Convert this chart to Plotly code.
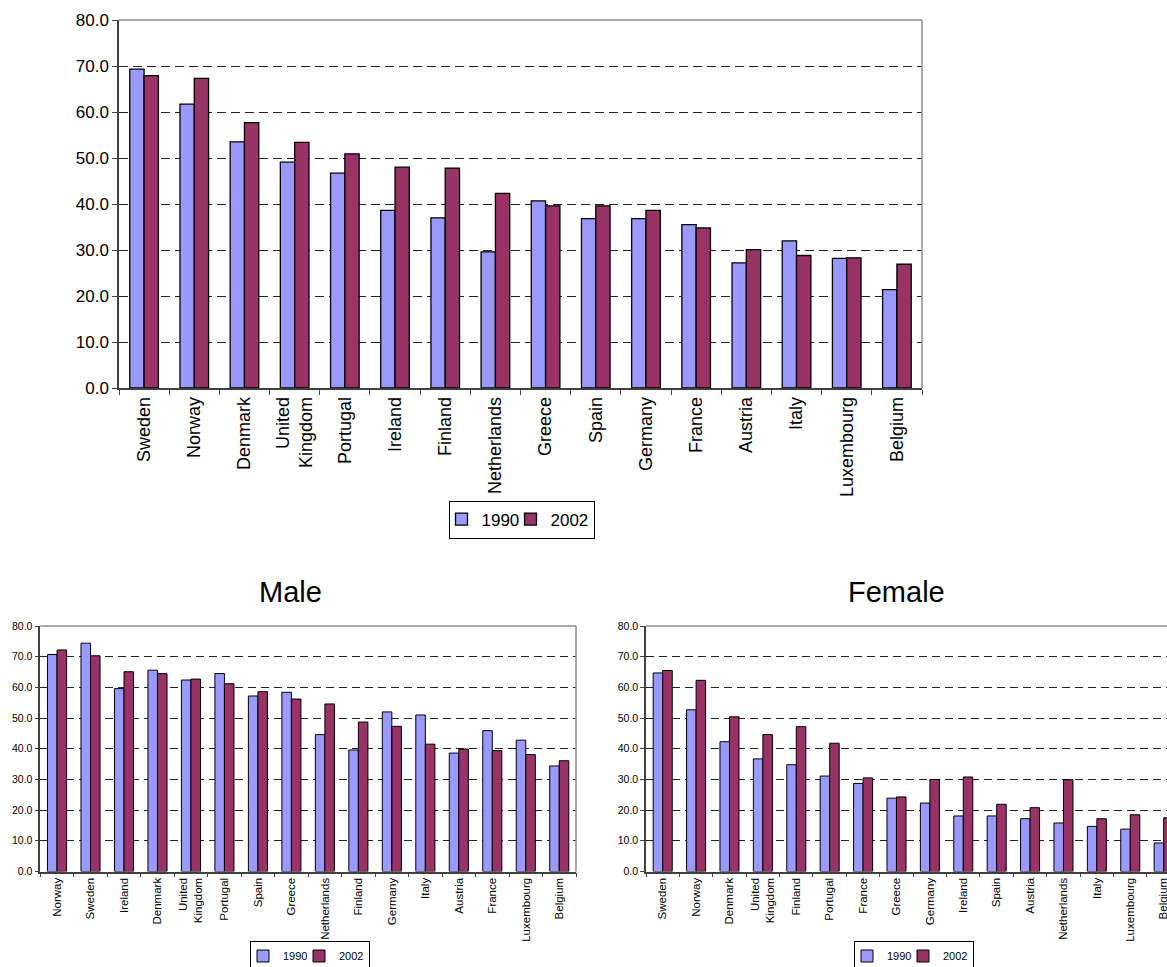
import plotly.graph_objects as go

W, H = 1167, 967
FONT = "Arial, Liberation Sans, sans-serif"
C1990 = "#9999FF"
C2002 = "#993366"

# Total (both sexes), sorted by the 2002 value
countries_all = ["Sweden", "Norway", "Denmark", "United<br>Kingdom", "Portugal", "Ireland",
                 "Finland", "Netherlands", "Greece", "Spain", "Germany", "France",
                 "Austria", "Italy", "Luxembourg", "Belgium"]
all_1990 = [69.3, 61.7, 53.5, 49.1, 46.7, 38.6, 37.0, 29.6, 40.7, 36.8, 36.8, 35.5,
            27.2, 32.0, 28.2, 21.4]
all_2002 = [67.9, 67.3, 57.7, 53.4, 50.9, 48.0, 47.8, 42.3, 39.6, 39.6, 38.6, 34.8,
            30.1, 28.8, 28.3, 26.9]

# Male
countries_male = ["Norway", "Sweden", "Ireland", "Denmark", "United<br>Kingdom", "Portugal",
                  "Spain", "Greece", "Netherlands", "Finland", "Germany", "Italy",
                  "Austria", "France", "Luxembourg", "Belgium"]
male_1990 = [70.7, 74.4, 59.6, 65.6, 62.4, 64.5, 57.2, 58.4, 44.6, 39.6, 52.0, 51.0,
             38.6, 45.9, 42.8, 34.4]
male_2002 = [72.2, 70.3, 65.1, 64.5, 62.7, 61.2, 58.6, 56.2, 54.6, 48.7, 47.3, 41.5,
             39.9, 39.4, 38.1, 36.1]

# Female
countries_female = ["Sweden", "Norway", "Denmark", "United<br>Kingdom", "Finland", "Portugal",
                    "France", "Greece", "Germany", "Ireland", "Spain", "Austria",
                    "Netherlands", "Italy", "Luxembourg", "Belgium"]
female_1990 = [64.7, 52.7, 42.3, 36.7, 34.8, 31.1, 28.7, 23.9, 22.3, 18.1, 18.1, 17.2,
               15.8, 14.7, 13.8, 9.3]
female_2002 = [65.5, 62.3, 50.4, 44.6, 47.2, 41.8, 30.5, 24.3, 30.0, 30.8, 21.9, 20.8,
               29.9, 17.2, 18.5, 17.5]

years = ["1990", "2002"]
colors = [C1990, C2002]


def px_x(v):
    return v / W


def px_y(v):
    return 1 - v / H


fig = go.Figure()

panels = [
    # (categories, series, axis suffix, legend id, bar line width, first legend entry width)
    (countries_all, [all_1990, all_2002], "", "legend", 1.3, 32),
    (countries_male, [male_1990, male_2002], "2", "legend2", 1.0, 19),
    (countries_female, [female_1990, female_2002], "3", "legend3", 1.0, 19),
]

for cats, series, suf, leg, lw, first_w in panels:
    for i, (name, vals, col) in enumerate(zip(years, series, colors)):
        fig.add_trace(go.Bar(
            x=cats, y=vals, name=name,
            marker=dict(color=col, line=dict(color="#000000", width=lw)),
            xaxis="x" + suf, yaxis="y" + suf,
            legend=leg, legendwidth=first_w if i == 0 else None,
            hoverinfo="x+y+name",
        ))

top_y = [px_y(388), px_y(20)]
bot_y = [px_y(871.5), px_y(626)]


def yaxis(domain, anchor, size, dash, ticklen):
    return dict(
        domain=domain, anchor=anchor, range=[0, 80], dtick=10, tickformat=".1f",
        showgrid=True, gridcolor="#222222", griddash=dash, gridwidth=1,
        showline=True, linecolor="#404040", linewidth=1.5, zeroline=False,
        ticks="outside", ticklen=ticklen, tickcolor="#404040", tickwidth=1,
        tickfont=dict(family=FONT, size=size, color="#000000"), fixedrange=True,
    )


def xaxis(domain, anchor, size, rng, ticklen):
    return dict(
        domain=domain, anchor=anchor, type="category", range=rng,
        tickson="boundaries", ticks="outside", ticklen=ticklen, tickcolor="#404040",
        showline=True, linecolor="#404040", linewidth=1.5, showgrid=False,
        tickangle=-90, tickfont=dict(family=FONT, size=size, color="#000000"),
        fixedrange=True,
    )


def legend_box(cx, cy, size):
    return dict(
        x=px_x(cx), y=px_y(cy), xanchor="center", yanchor="middle",
        orientation="h", bgcolor="#FFFFFF", bordercolor="#000000", borderwidth=1,
        font=dict(family=FONT, size=size), itemwidth=30, indentation=-8,
        traceorder="normal", itemclick=False, itemdoubleclick=False,
    )


fig.update_layout(
    width=W, height=H,
    margin=dict(l=0, r=0, t=0, b=0, autoexpand=False),
    paper_bgcolor="#FFFFFF", plot_bgcolor="#FFFFFF",
    barmode="group", bargap=0.43, bargroupgap=0,
    font=dict(family=FONT, color="#000000"),
    xaxis=xaxis([px_x(119), px_x(922)], "y", 18, [-0.5, 15.5], 5),
    yaxis=yaxis(top_y, "x", 17, "9px,5px", 5),
    xaxis2=xaxis([px_x(40.3), px_x(576)], "y2", 11.5, [-0.5, 15.5], 4),
    yaxis2=yaxis(bot_y, "x2", 10.5, "8px,5px", 4),
    xaxis3=xaxis([px_x(646), 1.0], "y3", 11.5, [-0.5, 15.1], 4),
    yaxis3=yaxis(bot_y, "x3", 10.5, "8px,5px", 4),
    legend=legend_box(521.5, 519.5, 17),
    legend2=legend_box(310, 956, 11),
    legend3=legend_box(914, 956, 11),
    annotations=[
        dict(text="Male", x=px_x(290), y=px_y(592), xref="paper", yref="paper",
             xanchor="center", yanchor="middle", showarrow=False,
             font=dict(family=FONT, size=29, color="#000000")),
        dict(text="Female", x=px_x(896), y=px_y(592), xref="paper", yref="paper",
             xanchor="center", yanchor="middle", showarrow=False,
             font=dict(family=FONT, size=29, color="#000000")),
    ],
)

# Grey frame along the top and right edges of each plot area
shapes = []
for suf, right in [("", True), ("2", True), ("3", False)]:
    xr, yr = "x" + suf + " domain", "y" + suf + " domain"
    shapes.append(dict(type="line", xref=xr, yref=yr, x0=0, x1=1, y0=1, y1=1,
                       line=dict(color="#8C8C8C", width=1.5), layer="above"))
    if right:
        shapes.append(dict(type="line", xref=xr, yref=yr, x0=1, x1=1, y0=0, y1=1,
                           line=dict(color="#8C8C8C", width=1.5), layer="above"))
fig.update_layout(shapes=shapes)

fig.write_html("out.html")
